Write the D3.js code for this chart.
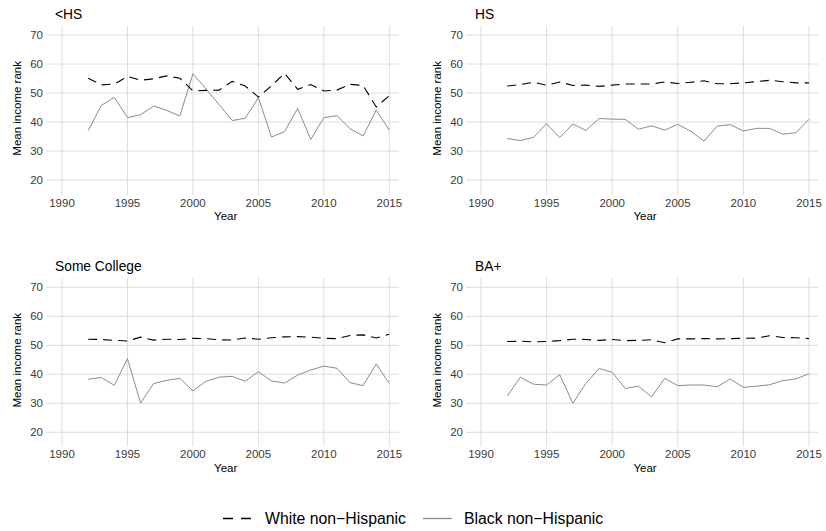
<!DOCTYPE html>
<html>
<head>
<meta charset="utf-8">
<script src="https://cdn.jsdelivr.net/npm/d3@7"></script>
<style>
  html, body { margin: 0; padding: 0; background: #fff; }
  svg { display: block; font-family: "Liberation Sans", Arial, Helvetica, sans-serif; }
</style>
</head>
<body>
<svg id="chart" width="826" height="531"></svg>
<script>
const years = d3.range(1992, 2016);
const panelTitles = ["<HS", "HS", "Some College", "BA+"];
const seriesNames = ["White non\u2212Hispanic", "Black non\u2212Hispanic"];
const xTicks = [1990, 1995, 2000, 2005, 2010, 2015];
const yTicks = [20, 30, 40, 50, 60, 70];

const whiteLTHS = [55.1,52.8,53.1,55.7,54.4,54.9,55.9,55.1,50.7,50.9,51.0,54.0,52.4,48.6,52.5,56.8,51.3,52.9,50.7,51.0,53.0,52.6,45.2,49.1];
const blackLTHS = [37.0,45.7,48.5,41.5,42.5,45.5,44.0,42.1,56.6,51.4,46.0,40.5,41.3,48.4,34.8,36.7,44.7,34.0,41.5,42.2,37.7,35.2,44.1,37.2];
const whiteHS   = [52.4,52.9,53.7,52.7,53.8,52.6,52.7,52.3,52.7,53.1,53.1,53.1,53.8,53.3,53.7,54.2,53.2,53.2,53.5,53.9,54.4,53.9,53.5,53.5];
const blackHS   = [34.3,33.6,34.7,39.4,34.6,39.3,37.1,41.2,41.0,40.9,37.5,38.7,37.2,39.2,36.8,33.4,38.6,39.1,36.9,37.8,37.8,35.8,36.3,40.9];
const whiteSC   = [52.1,52.0,51.7,51.5,52.8,51.8,52.1,52.0,52.4,52.3,51.9,51.8,52.5,52.1,52.6,52.9,53.0,52.8,52.4,52.3,53.4,53.6,52.5,53.8];
const blackSC   = [38.3,38.9,36.2,45.4,30.1,36.8,37.9,38.6,34.3,37.6,39.0,39.3,37.6,40.9,37.7,37.0,39.7,41.5,42.8,42.1,37.1,36.1,43.6,36.8];
const whiteBA   = [51.3,51.4,51.2,51.3,51.6,52.1,52.0,51.7,52.0,51.6,51.7,51.9,50.9,52.2,52.2,52.3,52.2,52.3,52.4,52.5,53.3,52.7,52.6,52.3];
const blackBA   = [32.5,39.0,36.6,36.3,39.9,30.0,36.9,42.0,40.7,35.1,35.9,32.2,38.6,36.1,36.3,36.3,35.7,38.4,35.5,35.9,36.4,37.8,38.4,40.2];

const panelData = [
  [whiteLTHS, blackLTHS],
  [whiteHS, blackHS],
  [whiteSC, blackSC],
  [whiteBA, blackBA]
];

const svg = d3.select("#chart");

// panel layout (pixel geometry)
const cols = [{x0: 62, x1: 389.3, left: 46, right: 399},
              {x0: 481, x1: 809, left: 466, right: 818.3}];
const rows = [{y70: 35, y20: 180, top: 25.7, bottom: 195},
              {y70: 287.3, y20: 432.3, top: 277.7, bottom: 446.7}];

const styles = [
  {stroke: "#000", width: 1.1, dash: "9,6"},
  {stroke: "#8c8c8c", width: 1.0, dash: null}
];

panelData.forEach((series, i) => {
  const c = cols[i % 2], r = rows[Math.floor(i / 2)];
  const x = d3.scaleLinear().domain([1990, 2015]).range([c.x0, c.x1]);
  const y = d3.scaleLinear().domain([20, 70]).range([r.y20, r.y70]);
  const g = svg.append("g");

  // gridlines
  g.selectAll(".hg").data(yTicks).enter().append("line")
    .attr("x1", c.left).attr("x2", c.right)
    .attr("y1", d => y(d)).attr("y2", d => y(d))
    .attr("stroke", "#dcdcdc").attr("stroke-width", 1);
  g.selectAll(".vg").data(xTicks).enter().append("line")
    .attr("y1", r.top).attr("y2", r.bottom)
    .attr("x1", d => x(d)).attr("x2", d => x(d))
    .attr("stroke", "#dcdcdc").attr("stroke-width", 1);

  // tick labels
  g.selectAll(".yt").data(yTicks).enter().append("text")
    .attr("x", c.left - 3).attr("y", d => y(d)).attr("dy", "0.36em")
    .attr("text-anchor", "end").attr("font-size", 11.5).attr("fill", "#3a3a3a")
    .text(d => d);
  g.selectAll(".xt").data(xTicks).enter().append("text")
    .attr("x", d => x(d)).attr("y", r.bottom + 11.5)
    .attr("text-anchor", "middle").attr("font-size", 11.5).attr("fill", "#3a3a3a")
    .text(d => d);

  // axis titles
  g.append("text")
    .attr("x", (c.x0 + c.x1) / 2).attr("y", r.bottom + 25)
    .attr("text-anchor", "middle").attr("font-size", 11.5).attr("fill", "#000")
    .text("Year");
  g.append("text")
    .attr("transform", `translate(${c.left - 25},${(r.top + r.bottom) / 2 - 2}) rotate(-90)`)
    .attr("text-anchor", "middle").attr("font-size", 11.5).attr("fill", "#000")
    .text("Mean income rank");

  // panel title
  g.append("text")
    .attr("x", c.left + 9).attr("y", r.top - 6.5)
    .attr("font-size", 13.8).attr("fill", "#000")
    .text(panelTitles[i]);

  // lines
  const line = d3.line().x((d, k) => x(years[k])).y(d => y(d));
  [1, 0].forEach(s => {
    g.append("path")
      .datum(series[s])
      .attr("d", line)
      .attr("fill", "none")
      .attr("stroke", styles[s].stroke)
      .attr("stroke-width", styles[s].width)
      .attr("stroke-dasharray", styles[s].dash);
  });
});

// legend
const legend = svg.append("g");
const legendItems = [
  {x1: 223, x2: 252, tx: 265},
  {x1: 423, x2: 452, tx: 464}
];
legendItems.forEach((it, s) => {
  legend.append("line")
    .attr("x1", it.x1).attr("x2", it.x2).attr("y1", 518.5).attr("y2", 518.5)
    .attr("stroke", styles[s].stroke).attr("stroke-width", 1.3)
    .attr("stroke-dasharray", s === 0 ? "10,8" : null);
  legend.append("text")
    .attr("x", it.tx).attr("y", 524)
    .attr("font-size", 15.8).attr("fill", "#000")
    .text(seriesNames[s]);
});
</script>
</body>
</html>
